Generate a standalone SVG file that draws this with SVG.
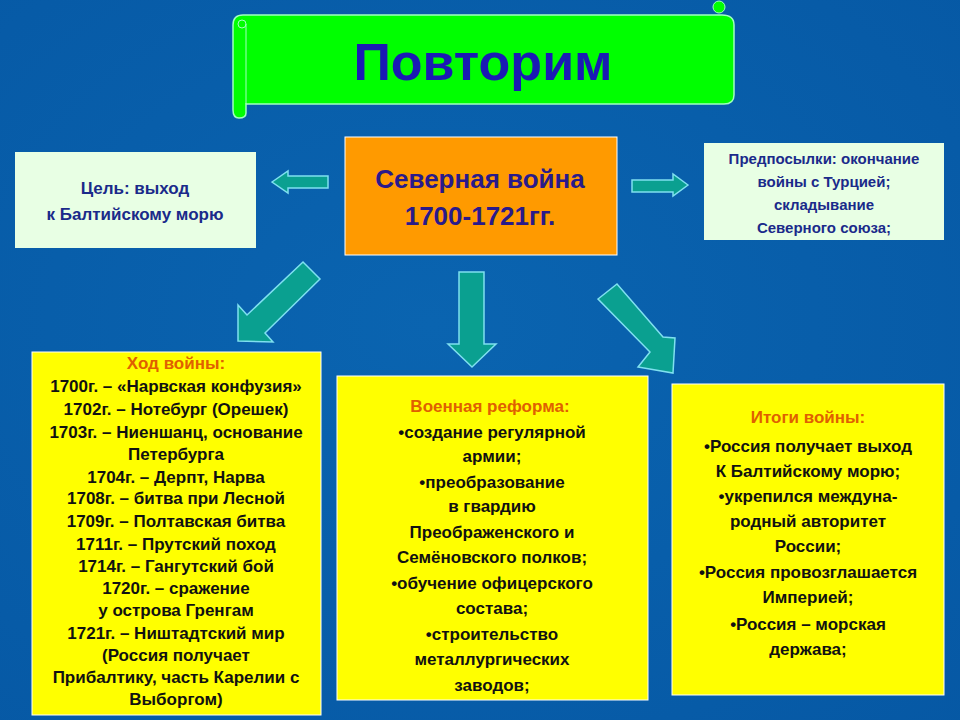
<svg xmlns="http://www.w3.org/2000/svg" width="960" height="720" viewBox="0 0 960 720">
<defs>
<radialGradient id="bg" cx="0.45" cy="0.45" r="0.8"><stop offset="0" stop-color="#0a64b0"/><stop offset="1" stop-color="#0658a4"/></radialGradient>
<style>
text{font-family:"Liberation Sans",Arial,sans-serif;font-weight:bold;text-anchor:middle}
.arr{fill:#0aa090;stroke:#7fe0f0;stroke-width:1.5}
.y{fill:#ffff00;stroke:#fff;stroke-width:1}
.t{font-size:17px;fill:#111}
.h{font-size:17px;fill:#e06000}
</style>
</defs>
<rect width="960" height="720" fill="url(#bg)"/>
<g id="title">
<path d="M233,25 Q233,15 243,15 L722,15 Q734,15 734,25 L734,95 Q734,104 724,104 L246,104 L246,113 Q246,118 239,118 Q233,118 233,110 Z" fill="#00ff00" stroke="#a0ffc0" stroke-width="1.5"/>
<circle cx="719" cy="7" r="6" fill="#00ff00" stroke="#a0ffc0"/>
<circle cx="242" cy="24" r="4" fill="#00ff00" stroke="#a0ffc0"/>
<line x1="246" y1="24" x2="246" y2="104" stroke="#a0ffc0"/>
<text x="483" y="80" style="font-size:52px;fill:#1a1ab4">Повторим</text>
</g>
<g id="center">
<rect x="345" y="137" width="272" height="118" fill="#ff9a00" stroke="#fff"/>
<text x="480" y="188" style="font-size:26px;fill:#2a1a8a">Северная война</text>
<text x="480" y="225" style="font-size:26px;fill:#2a1a8a">1700-1721гг.</text>
</g>
<g id="goal">
<rect x="15" y="152" width="241" height="96" fill="#e8ffe4"/>
<text x="135" y="194" style="font-size:17px;fill:#1a2a8a">Цель: выход</text>
<text x="135" y="220" style="font-size:17px;fill:#1a2a8a">к Балтийскому морю</text>
</g>
<g id="prereq">
<rect x="704" y="143" width="240" height="97" fill="#e8ffe4"/>
<g style="font-size:15px;fill:#1a2a8a">
<text x="824" y="164" style="font-size:15px;fill:#1a2a8a">Предпосылки: окончание</text>
<text x="824" y="187" style="font-size:15px;fill:#1a2a8a">войны с Турцией;</text>
<text x="824" y="210" style="font-size:15px;fill:#1a2a8a">складывание</text>
<text x="824" y="233" style="font-size:15px;fill:#1a2a8a">Северного союза;</text>
</g>
</g>
<g id="course">
<rect class="y" x="32" y="352" width="289" height="363"/>
<text class="h" x="176" y="369">Ход войны:</text>
<text class="t" x="176" y="392">1700г. – «Нарвская конфузия»</text>
<text class="t" x="176" y="415">1702г. – Нотебург (Орешек)</text>
<text class="t" x="176" y="438">1703г. – Ниеншанц, основание</text>
<text class="t" x="176" y="460">Петербурга</text>
<text class="t" x="176" y="483">1704г. – Дерпт, Нарва</text>
<text class="t" x="176" y="504">1708г. – битва при Лесной</text>
<text class="t" x="176" y="527">1709г. – Полтавская битва</text>
<text class="t" x="176" y="550">1711г. – Прутский поход</text>
<text class="t" x="176" y="572">1714г. – Гангутский бой</text>
<text class="t" x="176" y="594">1720г. – сражение</text>
<text class="t" x="176" y="616">у острова Гренгам</text>
<text class="t" x="176" y="639">1721г. – Ништадтский мир</text>
<text class="t" x="176" y="661">(Россия получает</text>
<text class="t" x="176" y="683">Прибалтику, часть Карелии с</text>
<text class="t" x="176" y="705">Выборгом)</text>
</g>
<g id="reform">
<rect class="y" x="337" y="376" width="311" height="324"/>
<text class="h" x="490" y="412">Военная реформа:</text>
<text class="t" x="492" y="438">•создание регулярной</text>
<text class="t" x="492" y="462">армии;</text>
<text class="t" x="492" y="488">•преобразование</text>
<text class="t" x="492" y="512">в гвардию</text>
<text class="t" x="492" y="538">Преображенского и</text>
<text class="t" x="492" y="563">Семёновского полков;</text>
<text class="t" x="492" y="589">•обучение офицерского</text>
<text class="t" x="492" y="614">состава;</text>
<text class="t" x="492" y="640">•строительство</text>
<text class="t" x="492" y="665">металлургических</text>
<text class="t" x="492" y="691">заводов;</text>
</g>
<g id="results">
<rect class="y" x="672" y="384" width="272" height="311"/>
<text class="h" x="808" y="423">Итоги войны:</text>
<text class="t" x="808" y="452">•Россия получает выход</text>
<text class="t" x="808" y="477">К Балтийскому морю;</text>
<text class="t" x="808" y="502">•укрепился междуна-</text>
<text class="t" x="808" y="527">родный авторитет</text>
<text class="t" x="808" y="552">России;</text>
<text class="t" x="808" y="578">•Россия провозглашается</text>
<text class="t" x="808" y="603">Империей;</text>
<text class="t" x="808" y="630">•Россия – морская</text>
<text class="t" x="808" y="655">держава;</text>
</g>
<g id="connectors">
<polygon class="arr" points="272,182 288,171 288,176 328,176 328,188 288,188 288,193"/>
<polygon class="arr" points="688,185 673,174 673,180 632,180 632,192 673,192 673,196"/>
<polygon class="arr" points="238,305 247,315 303,262 320,279 265,333 273,342 238,341"/>
<polygon class="arr" points="459,272 484,272 484,344 496,344 472,367 448,344 459,344"/>
<polygon class="arr" points="598,299 617,284 663,337 675,338 673,373 638,367 650,352"/>
</g>
</svg>
